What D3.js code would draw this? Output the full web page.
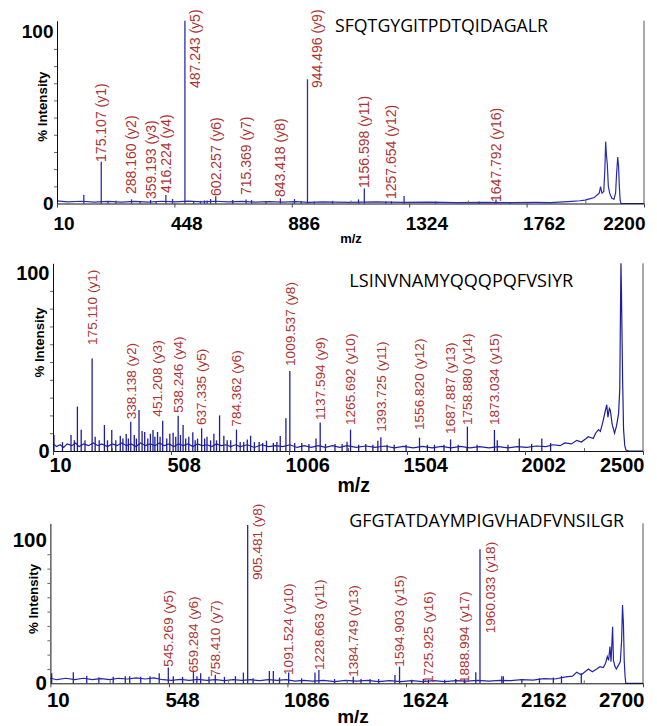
<!DOCTYPE html>
<html>
<head>
<meta charset="utf-8">
<script src="https://cdn.jsdelivr.net/npm/d3@7"></script>
<style>
  body { margin: 0; background: #fff; }
  svg { display: block; }
</style>
</head>
<body>
<script>
// ---- panel 1 : SFQTGYGITPDTQIDAGALR
const p1Title = "SFQTGYGITPDTQIDAGALR";
const p1Ticks = [10, 448, 886, 1324, 1762, 2200];
// [m/z, % intensity] centroid peaks
const p1Peaks = [[110,5],[175.107,24.3],[200,1],[230,1.5],[288.16,2.4],[320,1.2],[359.193,2],[380,1.5],[416.224,5],[441,2.6],
  [487.243,106.4],[520,1.5],[545,1.5],[560,1.8],[570,1.8],[583,2.6],[602.257,4.2],[665,2],[715.369,2.4],[736,2],[790,1.2],
  [843.418,3],[896,2.6],[921,1.5],[944.496,72.3],[970,1],[1038,1.5],[1135,2.4],[1156.598,8.8],[1237,1.2],[1257.654,1.3],
  [1305,4.4],[1423,1.2],[1585,1.2],[1647.792,2.4],[1700,0.8]];
// baseline / profile trace
const p1Trace = [[10,1.5],[50,1],[100,1.3],[150,0.8],[200,1.2],[250,0.8],[300,1.2],[350,0.8],[400,1.3],[450,0.9],[500,1.4],
  [550,1],[600,1.3],[650,0.9],[700,1.2],[750,0.8],[800,1.1],[850,0.8],[900,1.1],[950,0.7],[1000,1],[1100,0.7],[1200,0.9],
  [1300,0.6],[1400,0.8],[1500,0.5],[1600,0.7],[1700,0.5],[1800,0.6],[1850,0.5],[1900,0.9],[1930,1.2],[1960,1.6],[1980,2],
  [2000,2.8],[2015,3.5],[2025,5],[2033,6],[2038,9.8],[2043,6],[2050,7],[2054,20],[2057,36],[2060,28],[2063,23],[2067,10],
  [2072,6],[2080,3],[2088,2.5],[2094,6],[2098,18],[2102,27],[2105,22],[2108,10],[2111,2],[2114,0],[2200,0]];
const p1Labels = [[175.107,"y1"],[288.160,"y2"],[359.193,"y3"],[416.224,"y4"],[487.243,"y5"],[602.257,"y6"],
  [715.369,"y7"],[843.418,"y8"],[944.496,"y9"],[1156.598,"y11"],[1257.654,"y12"],[1647.792,"y16"]];

// ---- panel 2 : LSINVNAMYQQQPQFVSIYR
const p2Title = "LSINVNAMYQQQPQFVSIYR";
const p2Ticks = [10, 508, 1006, 1504, 2002, 2500];
const p2Peaks = [[14,9],[50,5],[86,9],[100,6],[113,25],[129,12],[145,6],[175.11,52],[188,8],[205,6],[227,14.6],[240,6],
  [258,11.8],[275,6],[294,8.6],[305,7],[319,9.5],[328,7],[338.138,16.5],[353,9],[362,7],[373,23],[386,11.2],[397,10.7],
  [410,7],[421,9.7],[432,11.8],[440,8],[451.208,10.7],[462,8],[473,17],[490,7],[503,9.7],[517,10.3],[528,8],[538.246,19.8],
  [548,9],[559,14.6],[570,7],[583,8],[600,10.5],[610,6],[620,7],[637.335,12.7],[650,7],[660,8],[675,6],[689,9.7],[700,6],
  [713,20],[731,8.6],[745,6],[760,6],[784.362,12],[800,5],[815,5],[830,6.5],[844,8.6],[860,5],[880,5],[895,4.5],[911,5.8],
  [940,4.5],[955,5],[969,8.4],[993,18.4],[1009.537,45],[1030,4.5],[1060,4.5],[1090,4],[1120,7],[1137.594,16],[1160,4],
  [1200,4],[1230,4],[1251,5.2],[1265.692,12],[1300,3.5],[1330,4],[1360,3.5],[1381,5.8],[1393.725,7.7],[1420,3.5],[1450,3.5],
  [1500,3.5],[1556.82,7.5],[1590,3.5],[1620,3.5],[1660,3.5],[1687.887,6.5],[1720,3.5],[1758.88,13.7],[1800,3.5],
  [1873.034,11.8],[1885,6],[1930,3.5],[1978,7],[2030,4],[2073,7],[2110,4.5]];
const p2Trace = [[10,4],[25,2.5],[40,3.5],[55,2],[70,4],[90,3],[105,4.5],[120,2.5],[140,4],[160,3],[180,4.5],[200,3],[215,4],
  [240,2.5],[260,4],[280,3],[300,4.5],[320,3],[340,4],[360,2.5],[380,4.5],[400,3],[420,4],[440,3],[460,4.5],[480,3],[500,4],
  [520,2.5],[540,4],[560,3],[580,4],[600,2.5],[620,4],[640,3],[660,3.5],[680,2.5],[700,4],[720,3],[740,3.5],[760,2.5],
  [780,3.5],[800,2.5],[830,3.5],[860,2],[890,3.5],[920,2.5],[950,3],[980,2.5],[1010,3.5],[1040,2],[1070,3],[1100,2],
  [1130,3],[1160,2],[1190,3],[1220,2],[1250,3],[1290,2],[1330,2.8],[1370,2],[1410,2.8],[1450,1.8],[1490,2.6],[1530,1.8],
  [1570,2.6],[1610,1.8],[1650,2.6],[1690,1.8],[1730,2.6],[1770,1.8],[1810,2.5],[1850,1.8],[1890,2.5],[1930,1.8],[1970,2.5],
  [2010,2],[2050,2.8],[2090,2.5],[2120,3.5],[2150,3],[2170,4.5],[2198,4],[2220,6],[2240,5],[2260,7],[2269,8],[2290,7],
  [2300,10],[2312,12],[2320,11],[2330,16],[2340,22],[2347,26],[2352,19],[2358,24],[2362,23],[2370,15],[2380,10],[2388,14],
  [2397,21],[2402,35],[2405,80],[2407,105.5],[2409,90],[2411,70],[2414,40],[2418,12],[2423,3],[2428,0.5],[2440,0],[2500,0]];
const p2Labels = [[175.110,"y1"],[338.138,"y2"],[451.208,"y3"],[538.246,"y4"],[637.335,"y5"],[784.362,"y6"],
  [1009.537,"y8"],[1137.594,"y9"],[1265.692,"y10"],[1393.725,"y11"],[1556.820,"y12"],[1687.887,"y13"],
  [1758.880,"y14"],[1873.034,"y15"]];

// ---- panel 3 : GFGTATDAYMPIGVHADFVNSILGR
const p3Title = "GFGTATDAYMPIGVHADFVNSILGR";
const p3Ticks = [10, 548, 1086, 1624, 2162, 2700];
const p3Peaks = [[16,7],[114,7.7],[175,5.3],[230,4.2],[295,4.6],[350,5],[370,5],[420,4.5],[462,5],[504,7],[545.269,11],
  [568,5],[610,4.5],[659.284,8.6],[675,5],[692,7],[730,4.5],[758.41,6],[800,4.5],[850,5],[886,7.5],[905.481,110.5],
  [930,3.5],[1004,8.6],[1022,8.6],[1050,4],[1091.524,7.5],[1150,3.5],[1211,7.5],[1228.663,9.3],[1300,3],[1384.749,4.6],
  [1420,3],[1461,3],[1500,3],[1574,5.8],[1594.903,11.6],[1650,2.5],[1703,3],[1725.925,2.5],[1800,2.5],[1850,3],
  [1888.994,3],[1941,7.7],[1960.033,93.5],[2059,5],[2066,5],[2150,3],[2230,3.5],[2293,4],[2330,5],[2420,7]];
const p3Trace = [[10,3.5],[40,2.5],[80,3.5],[120,2.5],[160,3.5],[200,2.5],[240,3.2],[280,2.5],[320,3.5],[360,3],[400,3.8],
  [440,3],[480,3.8],[520,2.5],[560,2],[600,2.8],[640,2],[680,2.8],[720,2],[760,2.5],[800,1.8],[840,2.5],[880,2],[920,2.5],
  [960,1.8],[1000,2.5],[1040,2],[1080,2.5],[1120,1.5],[1160,2],[1200,1.5],[1250,2],[1300,1.2],[1350,2],[1400,1.5],[1450,2],
  [1500,1.2],[1550,1.8],[1600,1.2],[1650,1.8],[1700,1.2],[1750,1.8],[1800,1.2],[1850,1.8],[1900,1.5],[1950,2],[2000,1.5],
  [2050,2],[2100,1.8],[2150,2.5],[2200,2.2],[2250,3.2],[2300,3],[2350,4.5],[2380,5],[2399,7.7],[2420,6],[2452,10],[2470,8],
  [2490,10],[2505,11.6],[2520,11],[2530,14],[2538,18.6],[2544,16],[2550,25.6],[2555,15],[2562,39.5],[2566,16],[2572,12],
  [2579,10],[2590,13],[2597,15],[2603,30],[2607,54.6],[2611,42],[2615,15],[2619,4],[2622,0],[2700,0]];
const p3Labels = [[545.269,"y5"],[659.284,"y6"],[758.410,"y7"],[905.481,"y8"],[1091.524,"y10"],[1228.663,"y11"],
  [1384.749,"y13"],[1594.903,"y15"],[1725.925,"y16"],[1888.994,"y17"],[1960.033,"y18"]];

const svg = d3.select("body").append("svg")
    .attr("width", 657)
    .attr("height", 726);

const fmt = d3.format(".3f");

function drawPanel(o) {
    var n = o.ticks.length - 1;
    var x = d3.scaleLinear().domain([o.ticks[0], o.ticks[n]]).range([o.left, o.right]);
    var y = d3.scaleLinear().domain([0, o.yMax]).range([o.bottom, o.top]);
    var g = svg.append("g");

    // profile trace
    g.append("path")
        .datum(o.trace)
        .attr("fill", "none")
        .attr("stroke", o.color)
        .attr("stroke-width", 1.2)
        .attr("d", d3.line().x(d => x(d[0])).y(d => y(d[1])));

    // peaks
    g.selectAll("line.pk")
        .data(o.peaks)
        .join("line")
        .attr("class", "pk")
        .attr("x1", d => x(d[0])).attr("x2", d => x(d[0]))
        .attr("y1", y(0)).attr("y2", d => y(d[1]))
        .attr("stroke", o.color)
        .attr("stroke-width", 1.3);

    // ion labels
    g.selectAll("text.ion")
        .data(o.labels)
        .join("text")
        .attr("class", "ion")
        .attr("transform", function(d, i) {
            var pk = o.peaks.find(p => Math.abs(p[0] - d[0]) < 0.01);
            var lvl = o.labelLevels[i];
            var dx = (pk && pk[1] - lvl > 5) ? 10 : 0;   // label beside a tall peak
            return "translate(" + (x(d[0]) + dx) + "," + y(lvl) + ") rotate(-90)";
        })
        .attr("dy", "0.35em")
        .attr("fill", "#ad3434")
        .style("font-family", "'Liberation Sans', Arial, sans-serif")
        .style("font-size", o.labelSize + "px")
        .text(d => fmt(d[0]) + " (" + d[1] + ")");

    // y axis
    var ya = g.append("g")
        .attr("transform", "translate(" + o.left + ",0)")
        .call(d3.axisLeft(y).tickValues([0, 100]).tickFormat(d3.format("d")).tickSize(0).tickSizeOuter(0).tickPadding(3.5));
    ya.select(".domain").attr("stroke", "#111");
    ya.selectAll("text")
        .style("font-family", "'Liberation Sans', Arial, sans-serif")
        .style("font-weight", "bold")
        .style("font-size", o.tickSize + "px")
        .attr("fill", "#000");
    g.append("g")
        .attr("transform", "translate(" + o.left + ",0)")
        .call(d3.axisLeft(y).tickValues(d3.range(10, 100, 10)).tickSize(3).tickFormat(""))
        .call(s => s.select(".domain").remove())
        .selectAll("line").attr("stroke", "#666");

    // x axis
    var xa = g.append("g")
        .attr("transform", "translate(0," + o.bottom + ")")
        .call(d3.axisBottom(x).tickValues(o.ticks).tickFormat(d3.format("d")).tickSize(4).tickSizeOuter(0));
    xa.select(".domain").attr("stroke", "#111");
    xa.selectAll("line").attr("stroke", "#444");
    xa.selectAll("text")
        .attr("text-anchor", (d, i) => i === n ? "end" : "start")
        .attr("x", (d, i) => i === n ? 1 : -4)
        .attr("y", o.xLabelY)
        .attr("dy", null)
        .style("font-family", "'Liberation Sans', Arial, sans-serif")
        .style("font-weight", "bold")
        .style("font-size", o.tickSize + "px")
        .attr("fill", "#000");
    g.append("g")
        .attr("transform", "translate(0," + o.bottom + ")")
        .call(d3.axisBottom(x).tickValues(d3.pairs(o.ticks).map(p => (p[0] + p[1]) / 2)).tickSize(-3).tickFormat(""))
        .call(s => s.select(".domain").remove())
        .selectAll("line").attr("stroke", "#666");

    // right frame line
    g.append("line")
        .attr("x1", x(o.ticks[n])).attr("x2", x(o.ticks[n]))
        .attr("y1", y(o.yMax)).attr("y2", y(0))
        .attr("stroke", "#555").attr("stroke-width", 1);

    // y title
    g.append("text")
        .attr("transform", "translate(" + o.yTitle[0] + "," + o.yTitle[1] + ") rotate(-90)")
        .attr("text-anchor", "middle")
        .attr("dy", "0.35em")
        .style("font-family", "'Liberation Sans', Arial, sans-serif")
        .style("font-weight", "bold")
        .style("font-size", "13.3px")
        .text("% Intensity");

    // x title
    g.append("text")
        .attr("x", o.xTitle[0]).attr("y", o.xTitle[1])
        .attr("text-anchor", "middle")
        .style("font-family", "'Liberation Sans', Arial, sans-serif")
        .style("font-weight", "bold")
        .style("font-size", o.xTitle[2] + "px")
        .text("m/z");

    // peptide sequence
    g.append("text")
        .attr("x", o.seq[0]).attr("y", o.seq[1])
        .attr("textLength", o.seq[2])
        .attr("lengthAdjust", "spacingAndGlyphs")
        .style("font-family", "'Open Sans', 'Noto Sans', sans-serif")
        .style("font-size", "18px")
        .text(o.title);
}

drawPanel({
    title: p1Title, ticks: p1Ticks, peaks: p1Peaks, trace: p1Trace, labels: p1Labels,
    labelLevels: [24.2, 5.5, 2.6, 6.1, 67.2, 4.4, 4.9, 3.8, 67.2, 9, 2.6, 0.9],
    left: 57, right: 644, top: 20.7, bottom: 203.5, yMax: 106.4,
    color: "#2b2bb0", labelSize: 14, tickSize: 19, xLabelY: 26.5,
    yTitle: [42.7, 106.7], xTitle: [351, 243, 13], seq: [335, 31.7, 213]
});

drawPanel({
    title: p2Title, ticks: p2Ticks, peaks: p2Peaks, trace: p2Trace, labels: p2Labels,
    labelLevels: [59.6, 17.8, 19.3, 21.5, 14.6, 13.7, 47.8, 17.4, 14.6, 10.8, 11.8, 9.6, 14.6, 14.6],
    left: 53, right: 643, top: 263.3, bottom: 451, yMax: 105.5,
    color: "#1e1e9a", labelSize: 13.6, tickSize: 20, xLabelY: 20.7,
    yTitle: [39.3, 342.5], xTitle: [353.7, 492, 19.5], seq: [349.3, 286.7, 224]
});

drawPanel({
    title: p3Title, ticks: p3Ticks, peaks: p3Peaks, trace: p3Trace, labels: p3Labels,
    labelLevels: [11.6, 7.4, 4.6, 72, 5.8, 9.3, 4.6, 11.6, 0.2, 0.2, 34.9],
    left: 50.4, right: 643, top: 523.3, bottom: 683.3, yMax: 111.6,
    color: "#2424a8", labelSize: 13.6, tickSize: 20.5, xLabelY: 23.4,
    yTitle: [33.3, 599], xTitle: [353, 723, 19], seq: [349.3, 527.3, 274.7]
});
</script>
</body>
</html>
